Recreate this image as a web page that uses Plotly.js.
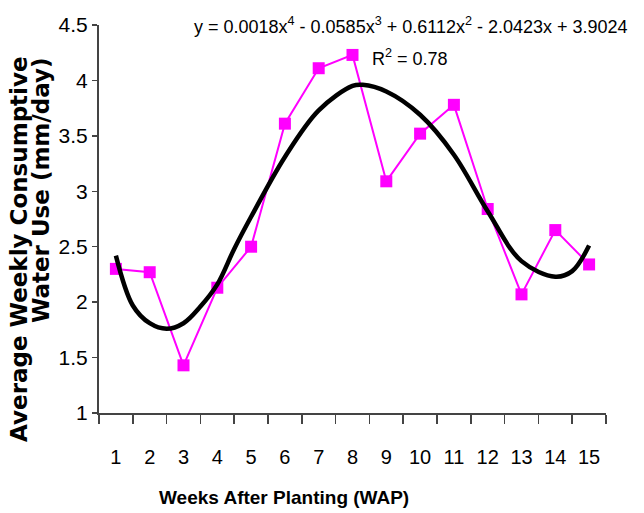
<!DOCTYPE html>
<html>
<head>
<meta charset="utf-8">
<script src="https://cdn.plot.ly/plotly-3.0.1.min.js"></script>
<style>
  html, body { margin: 0; padding: 0; background: #fff; }
  #plot-wap { width: 644px; height: 513px; }
</style>
</head>
<body>
<div id="plot-wap"></div>
<script>
// weekly consumptive water use
const weeks = [1, 2, 3, 4, 5, 6, 7, 8, 9, 10, 11, 12, 13, 14, 15];
const waterUse = [2.30, 2.27, 1.43, 2.13, 2.50, 3.61, 4.11, 4.23, 3.09, 3.52, 3.78, 2.84, 2.07, 2.65, 2.34];

// poly trend line as drawn (read from picture, not from the rounded equation)
const trendX = [1, 1.5, 2, 2.5, 3, 3.5, 4, 4.5, 5, 6, 7, 8, 8.3, 9, 10, 11, 12, 13, 14, 14.5, 15];
const trendY = [2.42, 1.97, 1.81, 1.76, 1.81, 1.96, 2.16, 2.48, 2.77, 3.31, 3.73, 3.95, 3.96, 3.90, 3.69, 3.33, 2.82, 2.37, 2.23, 2.28, 2.51];

const tickLabels = weeks.map(String);

const sans = "Liberation Sans, Arial, sans-serif";

const plotWater = () => {
  let observed = {
    x: weeks,
    y: waterUse,
    mode: "lines+markers",
    type: "scatter",
    line: { color: "#ff00ff", width: 2 },
    marker: { symbol: "square", size: 12, color: "#ff00ff" },
    hoverinfo: "none",
  };

  let trend = {
    x: trendX,
    y: trendY,
    mode: "lines",
    type: "scatter",
    line: { color: "#000000", width: 4.5, shape: "spline", smoothing: 1 },
    hoverinfo: "none",
  };

  let layout = {
    width: 644,
    height: 513,
    margin: { l: 99, r: 38, t: 25, b: 100 },
    paper_bgcolor: "#ffffff",
    plot_bgcolor: "#ffffff",
    showlegend: false,
    xaxis: {
      range: [0.5, 15.5],
      tickmode: "array",
      tickvals: weeks,
      ticktext: tickLabels,
      ticks: "",
      ticklabelstandoff: 25,
      tickfont: { family: sans, size: 20, color: "#000" },
      minor: { tick0: 0.5, dtick: 1, ticks: "outside", ticklen: 9, tickwidth: 1.5, tickcolor: "#444" },
      showline: true,
      linecolor: "#444",
      linewidth: 2,
      showgrid: false,
      zeroline: false,
    },
    yaxis: {
      range: [1, 4.5],
      dtick: 0.5,
      ticks: "outside",
      ticklen: 5,
      tickwidth: 1.5,
      tickcolor: "#444",
      tickfont: { family: sans, size: 21, color: "#000" },
      showline: true,
      linecolor: "#444",
      linewidth: 2,
      showgrid: false,
      zeroline: false,
    },
    annotations: [
      {
        text: "Weeks After Planting (WAP)",
        xref: "paper", yref: "paper",
        x: 0.365, y: -0.2165,
        xanchor: "center", yanchor: "middle",
        showarrow: false,
        font: { family: sans, size: 19, color: "#000", weight: "bold" },
      },
      {
        text: "Average Weekly Consumptive",
        xref: "paper", yref: "paper",
        x: -0.158, y: 0.4227,
        xanchor: "center", yanchor: "middle",
        textangle: -90,
        showarrow: false,
        font: { family: "DejaVu Sans, sans-serif", size: 23, color: "#000", weight: "bold" },
      },
      {
        text: "Water Use (mm/day)",
        xref: "paper", yref: "paper",
        x: -0.114, y: 0.575,
        xanchor: "center", yanchor: "middle",
        textangle: -90,
        showarrow: false,
        font: { family: "DejaVu Sans, sans-serif", size: 23, color: "#000", weight: "bold" },
      },
      {
        text: "y = 0.0018x<sup>4</sup> - 0.0585x<sup>3</sup> + 0.6112x<sup>2</sup> - 2.0423x + 3.9024",
        xref: "paper", yref: "paper",
        x: 1.047, y: 1.0,
        xanchor: "right", yanchor: "middle",
        showarrow: false,
        font: { family: sans, size: 18, color: "#000" },
      },
      {
        text: "R<sup>2</sup> = 0.78",
        xref: "paper", yref: "paper",
        x: 0.613, y: 0.9175,
        xanchor: "center", yanchor: "middle",
        showarrow: false,
        font: { family: sans, size: 18, color: "#000" },
      },
    ],
  };

  var config = { staticPlot: true };

  Plotly.newPlot("plot-wap", [observed, trend], layout, config);
};

plotWater();
</script>
</body>
</html>
